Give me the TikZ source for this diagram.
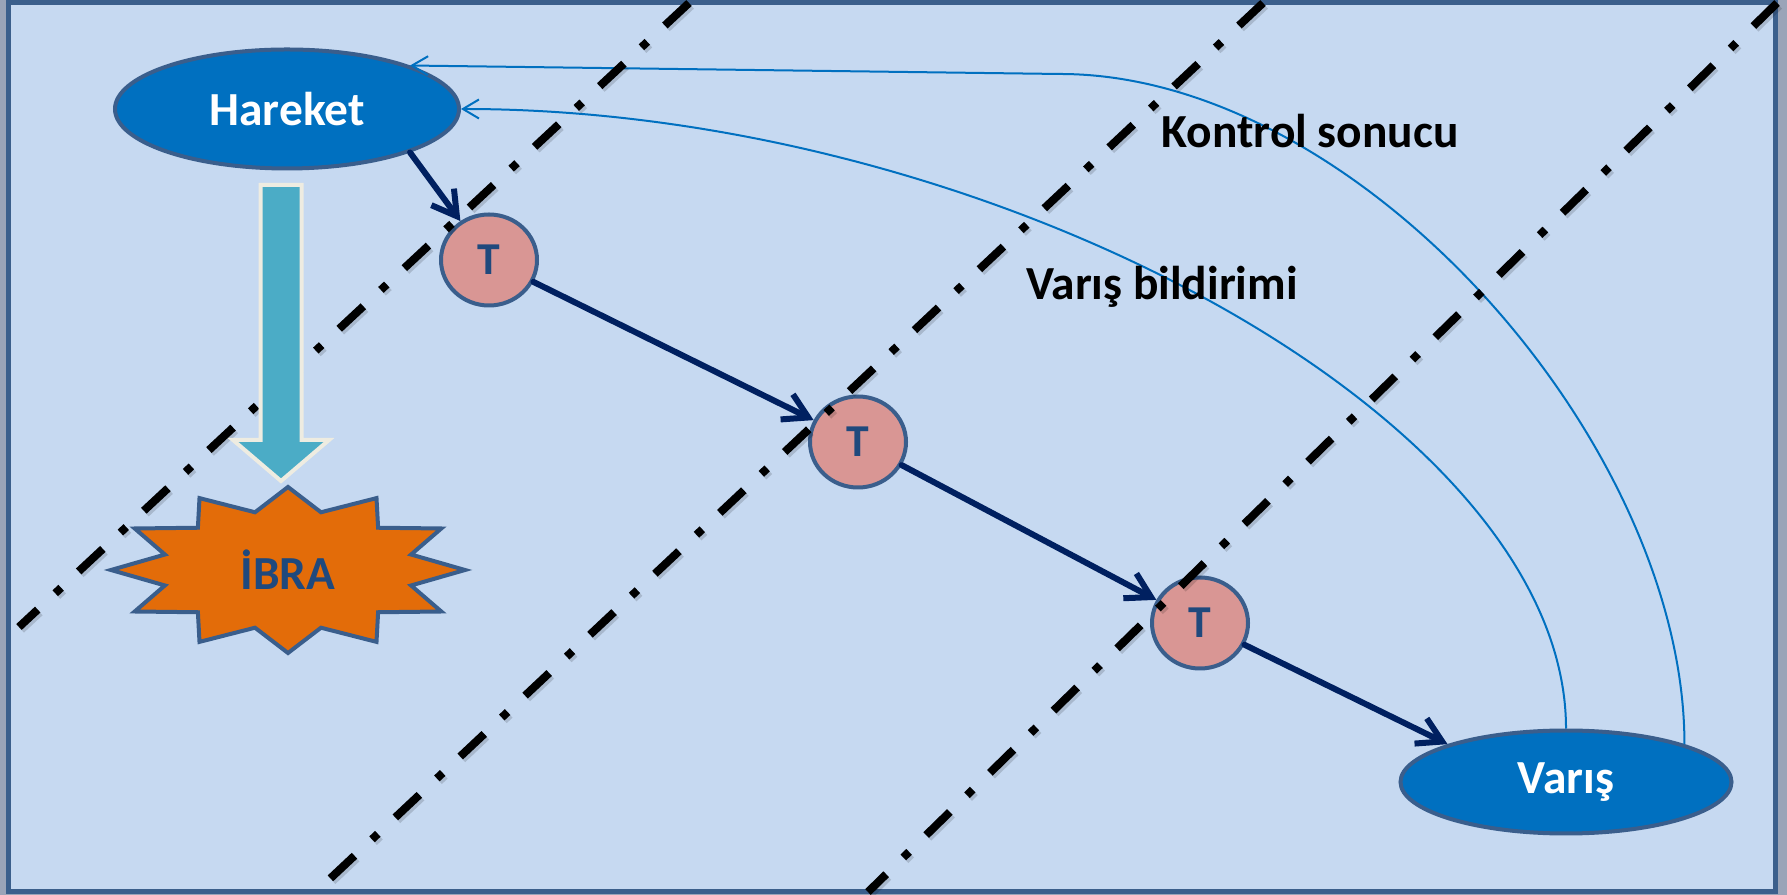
\documentclass[tikz,border=0pt]{standalone}
\usepackage{fontspec}
\setmainfont{Carlito}
\usetikzlibrary{shapes.geometric,arrows.meta}
\definecolor{pagebg}{HTML}{C6D9F1}
\definecolor{pageshade}{HTML}{9AA4B8}
\definecolor{framec}{HTML}{3B5F8C}
\definecolor{nodeblue}{HTML}{0070C0}
\definecolor{edgeblue}{HTML}{3A5E8C}
\definecolor{tpink}{HTML}{D99694}
\definecolor{tnavy}{HTML}{1F497D}
\definecolor{navy}{HTML}{002060}
\definecolor{burstc}{HTML}{E36C09}
\definecolor{cyanarrow}{HTML}{4BACC6}
\definecolor{cream}{HTML}{EEECE1}
\tikzset{
    station/.style={ellipse, draw=edgeblue, line width=0.04cm, fill=nodeblue, text=white, inner sep=0pt, font=\fontsize{13.5}{16}\selectfont\bfseries},
    transit/.style={ellipse, draw=edgeblue, line width=0.04cm, fill=tpink, text=tnavy, inner sep=0pt, minimum width=0.96cm, minimum height=0.91cm, font=\fontsize{13}{15}\selectfont\bfseries},
    flow/.style={-{Straight Barb[length=0.24cm,width=0.28cm]}, navy, line width=0.06cm, line cap=round},
    feedback/.style={-{Straight Barb[length=0.16cm,width=0.19cm]}, nodeblue, line width=0.02cm},
    borderline/.style={black, line width=0.08cm, dash pattern=on 0.33cm off 0.24cm on 0.08cm off 0.24cm},
    bordershadow/.style={black, opacity=0.15, line width=0.1cm, dash pattern=on 0.33cm off 0.24cm on 0.08cm off 0.24cm},
    burst/.style={fill=burstc, draw=edgeblue, line width=0.04cm, line join=miter},
    blockarrow/.style={fill=cyanarrow, draw=cream, line width=0.04cm, line join=miter},
    caption/.style={anchor=base, font=\fontsize{13.5}{16}\selectfont\bfseries}
}
\begin{document}
\begin{tikzpicture}
    \useasboundingbox (0,0) rectangle (17.87,8.95);
    \fill[pageshade] (0,0) rectangle (17.87,8.95);
    \draw[framec, line width=0.05cm, fill=pagebg] (0.08,0.03) rectangle (17.75,8.92);
    \node[station, minimum width=3.44cm, minimum height=1.19cm] (hareket) at (2.87,7.86) {Hareket};
    \node[station, minimum width=3.31cm, minimum height=1.03cm] (varis) at (15.66,1.13) {Varış};
    \node[transit] (t1) at (4.89,6.35) {T};
    \node[transit] (t2) at (8.58,4.53) {T};
    \node[transit] (t3) at (12.00,2.72) {T};
    \begin{scope}[shift={(2.88,3.25)},xscale=1.77,yscale=0.83]
        \draw[burst] (90:1) \foreach \k in {0,...,11} { -- ({105+30*\k}:0.72) -- ({120+30*\k}:1) } -- cycle;
    \end{scope}
    \node[text=tnavy, font=\fontsize{13.5}{16}\selectfont\bfseries] (ibra) at (2.88,3.25) {İBRA};
    \coordinate (kbend) at (10.60,8.21);
    \draw[feedback] (varis.north east) .. controls +(0,3) and +(3,0) .. (kbend) -- (hareket.north east);
    \draw[feedback] (varis.north) .. controls +(0,3.1) and +(5.3,0) .. (hareket.east);
    \draw[flow] (hareket.south east) -- (t1);
    \draw[flow] (t1) -- (t2);
    \draw[flow] (t2) -- (t3);
    \draw[flow] (t3) -- (varis.north west);
    \foreach \xa/\xb/\yb in {6.89/0.19/2.68, 12.63/3.18/0.05, 17.77/8.68/0.03} {
        \draw[bordershadow, shift={(0.015,-0.02)}] (\xa,8.92) -- (\xb,\yb);
        \draw[borderline] (\xa,8.92) -- (\xb,\yb);
    }
    \begin{scope}[shift={(2.81,7.10)}]
        \draw[blockarrow] (-0.205,0) -- (0.205,0) -- (0.205,-2.55) -- (0.48,-2.55) -- (0,-2.96) -- (-0.48,-2.55) -- (-0.205,-2.55) -- cycle;
    \end{scope}
    \node[caption] (kontrol) at (13.10,7.47) {Kontrol sonucu};
    \node[caption] (bildirim) at (11.62,5.95) {Varış bildirimi};
\end{tikzpicture}
\end{document}
